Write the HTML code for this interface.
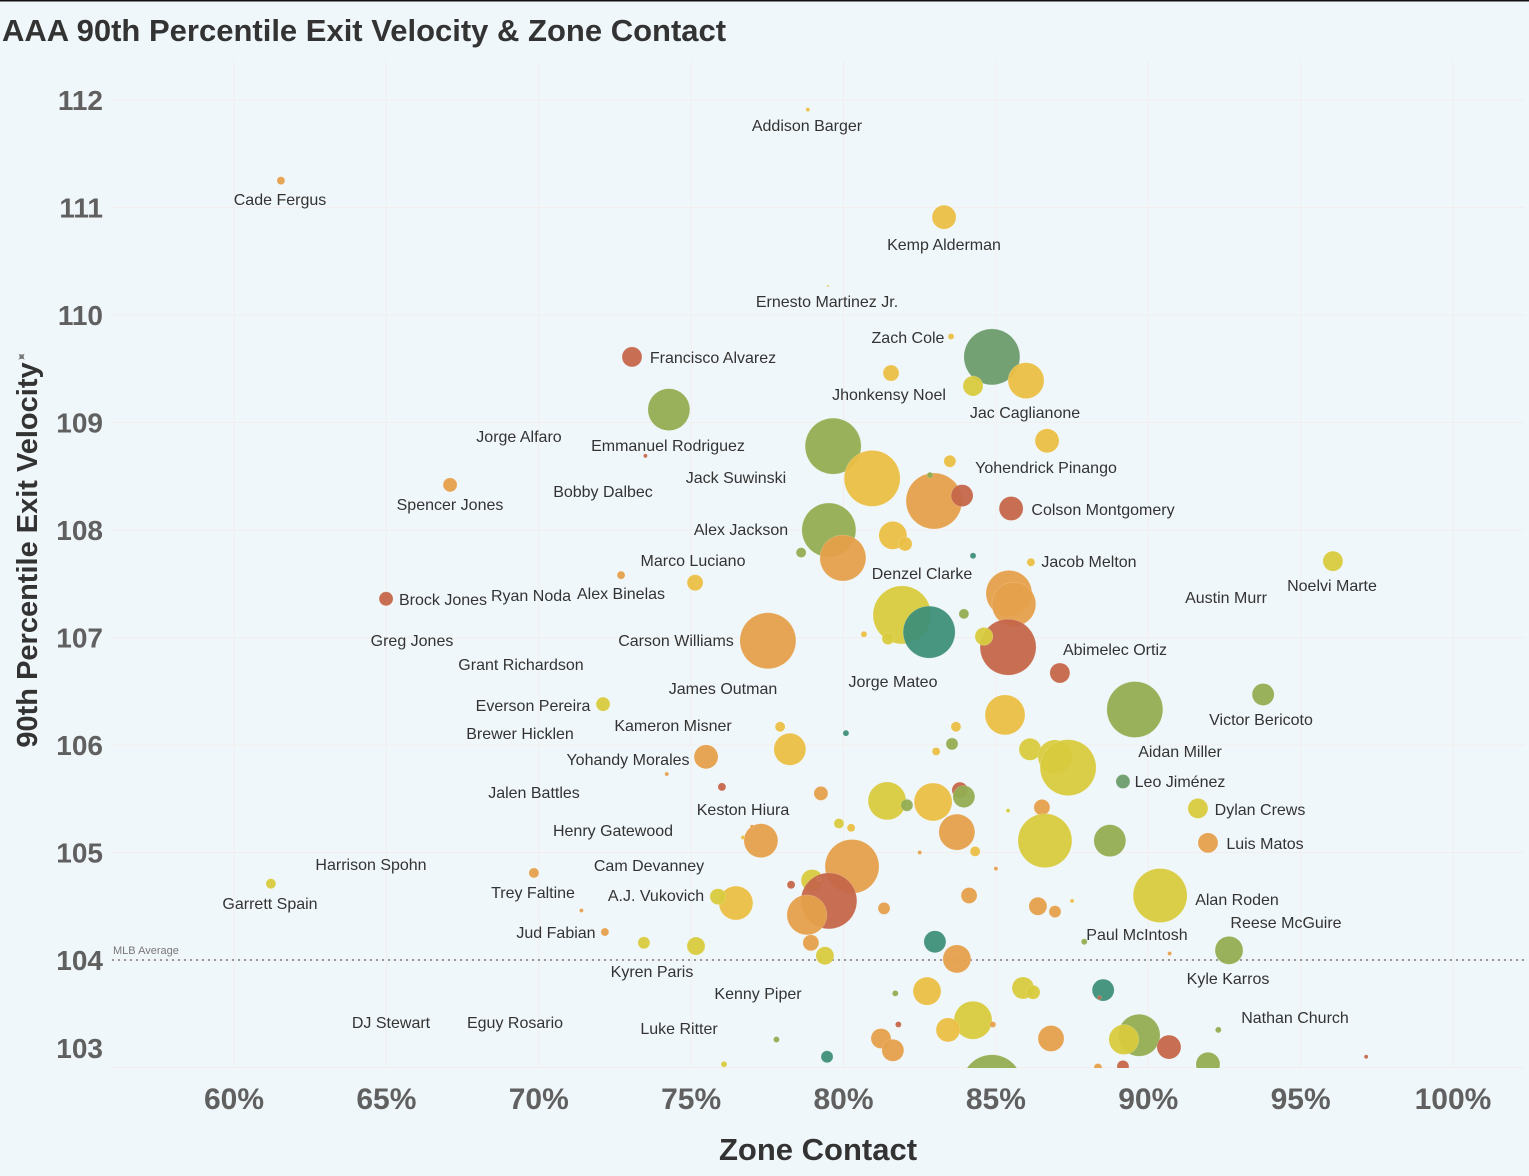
<!DOCTYPE html>
<html><head><meta charset="utf-8"><style>
html,body{margin:0;padding:0;background:#f0f7fa;}
svg{display:block;font-family:"Liberation Sans","DejaVu Sans",sans-serif;}
</style></head><body>
<svg id="chart" width="1529" height="1176" viewBox="0 0 1529 1176">
<rect x="0" y="0" width="1529" height="1176" fill="#f0f7fa"/>
<rect x="0" y="0" width="1529" height="1.5" fill="#111"/>
<text x="2" y="41" font-size="31" font-weight="bold" fill="#333">AAA 90th Percentile Exit Velocity &amp; Zone Contact</text>
<defs><clipPath id="plotclip"><rect x="110" y="60" width="1415" height="1008"/></clipPath></defs>
<g id="grid"></g>
<g id="yticks"></g>
<g id="xticks"></g>
<g id="avg"></g>
<g id="marks" clip-path="url(#plotclip)"></g>
<g id="labels"></g>
<text x="818" y="1160" text-anchor="middle" font-size="31" font-weight="bold" fill="#333">Zone Contact</text>
<text transform="translate(37,555) rotate(-90)" text-anchor="middle" font-size="29" font-weight="bold" fill="#333">90th Percentile Exit Velocity</text>
<text transform="translate(25,360) rotate(-45)" text-anchor="middle" font-size="13" fill="#777">✦</text>
</svg>
<script>
const xTicks=[60,65,70,75,80,85,90,95,100];
const yTicks=[103,104,105,106,107,108,109,110,111,112];
const mlbAverage=104.0;
const zoneContact=[78.83,61.54,83.30,79.49,83.53,73.06,84.87,85.99,84.25,81.56,74.27,79.66,80.94,86.68,83.49,82.97,83.89,85.50,67.09,82.84,79.52,81.62,82.02,79.98,78.61,84.25,86.15,96.06,72.70,75.13,64.99,85.43,85.59,81.92,82.81,77.52,85.40,83.95,84.61,80.67,81.46,87.10,93.77,89.56,85.30,72.11,77.92,83.69,80.08,78.24,75.49,83.56,83.04,86.12,86.94,87.37,89.17,76.01,79.26,81.43,82.08,82.94,83.82,83.95,86.51,91.63,79.85,80.25,77.29,83.72,86.61,88.74,91.96,84.32,80.28,69.84,61.21,78.97,79.52,78.80,76.47,75.88,90.39,84.12,86.38,86.94,81.33,78.28,72.17,73.45,75.16,78.93,79.39,83.00,83.72,92.65,82.74,85.89,86.22,88.52,84.25,83.43,89.70,89.20,86.81,90.68,81.23,81.62,79.46,84.87,91.96,89.17,88.35,76.08,97.15,87.9,92.3,77.8,81.8,84.9,88.4,71.4,81.7,85.4,85.0,73.5,77.0,82.5,87.5,90.7,79.2,76.7,74.2];
const exitVelo=[111.91,111.25,110.91,110.27,109.80,109.61,109.61,109.39,109.34,109.46,109.12,108.78,108.48,108.83,108.64,108.27,108.32,108.20,108.42,108.51,108.00,107.95,107.87,107.74,107.79,107.76,107.70,107.71,107.58,107.51,107.36,107.41,107.31,107.21,107.05,106.97,106.91,107.22,107.01,107.03,106.99,106.67,106.47,106.33,106.28,106.38,106.17,106.17,106.11,105.96,105.89,106.01,105.94,105.96,105.89,105.79,105.66,105.61,105.55,105.48,105.44,105.47,105.58,105.52,105.42,105.41,105.27,105.23,105.11,105.19,105.11,105.11,105.09,105.01,104.87,104.81,104.71,104.74,104.55,104.42,104.53,104.59,104.60,104.60,104.50,104.45,104.48,104.70,104.26,104.16,104.13,104.16,104.04,104.17,104.01,104.09,103.71,103.74,103.70,103.72,103.44,103.35,103.30,103.26,103.27,103.19,103.27,103.16,103.10,102.84,103.03,103.01,103.00,103.03,103.10,104.17,103.35,103.26,103.40,103.40,103.65,104.46,103.69,105.39,104.85,108.69,105.24,105.00,104.55,104.06,104.75,105.14,105.73];
const sizes=[2,4,12,1,3,10,28,18,10,8,21,28,28,12,6,28,11,12,7,3,27,14,7,23,5,3,4,10,4,8,7,23,22,29,26,28,28,5,9,3,6,10,11,28,20,7,5,5,3,16,12,6,4,11,17,28,7,4,7,19,6,19,8,11,8,10,5,4,17,18,27,16,10,5,27,5,5,11,28,20,17,8,27,8,9,6,6,4,4,6,9,8,9,11,14,14,14,11,7,11,19,12,21,15,13,12,10,11,6,30,12,6,4,3,2,3,3,3,3,3,2,2,3,2,2,2,2,2,2,2,2,2,2];
const colorGroup=["yo","o","yo","yo","yo","r","g","yo","y","yo","ol","ol","yo","yo","yo","o","r","r","o","ol","ol","yo","yo","o","ol","t","yo","y","o","yo","r","o","o","y","t","o","r","ol","y","yo","y","r","ol","ol","yo","y","yo","yo","t","yo","o","ol","yo","y","y","y","g","r","o","y","ol","yo","r","ol","o","y","y","yo","o","o","y","ol","o","yo","o","o","y","y","r","o","yo","y","y","o","o","o","o","r","o","y","y","o","y","t","o","ol","yo","y","y","t","y","yo","ol","y","o","r","o","o","t","ol","ol","r","o","y","r","ol","ol","ol","r","o","r","o","ol","y","o","r","o","o","yo","o","r","yo"];
const palette={o:"#e5a04b",r:"#c4664a",y:"#d8ca3e",yo:"#ebbf45",ol:"#93ad52",g:"#6b9c6b",t:"#3e8f79"};
const labelText=["Addison Barger","Cade Fergus","Kemp Alderman","Ernesto Martinez Jr.","Zach Cole","Francisco Alvarez","Jhonkensy Noel","Jac Caglianone","Jorge Alfaro","Emmanuel Rodriguez","Yohendrick Pinango","Jack Suwinski","Bobby Dalbec","Spencer Jones","Colson Montgomery","Alex Jackson","Marco Luciano","Jacob Melton","Denzel Clarke","Noelvi Marte","Brock Jones","Ryan Noda","Alex Binelas","Austin Murr","Greg Jones","Carson Williams","Abimelec Ortiz","Grant Richardson","Jorge Mateo","James Outman","Everson Pereira","Victor Bericoto","Kameron Misner","Brewer Hicklen","Aidan Miller","Yohandy Morales","Leo Jiménez","Jalen Battles","Keston Hiura","Dylan Crews","Henry Gatewood","Luis Matos","Harrison Spohn","Cam Devanney","Trey Faltine","A.J. Vukovich","Alan Roden","Garrett Spain","Reese McGuire","Jud Fabian","Paul McIntosh","Kyren Paris","Kyle Karros","Kenny Piper","Nathan Church","DJ Stewart","Eguy Rosario","Luke Ritter"];
const labelX=[807,280,944,827,908,713,889,1025,519,668,1046,736,603,450,1103,741,693,1089,922,1332,443,531,621,1226,412,676,1115,521,893,723,533,1261,673,520,1180,628,1180,534,743,1260,613,1265,371,649,533,656,1237,270,1286,556,1137,652,1228,758,1295,391,515,679];
const labelY=[126,200,245,302,338,358,395,413,437,446,468,478,492,505,510,530,561,562,574,586,600,596,594,598,641,641,650,665,682,689,706,720,726,734,752,760,782,793,810,810,831,844,865,866,893,896,900,904,923,933,935,972,979,994,1018,1023,1023,1029];

const NS="http://www.w3.org/2000/svg";
const xScale=v=>234+(v-60)*30.475;
const yScale=v=>100+(112-v)*107.5;
function mk(tag,attrs,parent){const e=document.createElementNS(NS,tag);for(const k in attrs)e.setAttribute(k,attrs[k]);parent.appendChild(e);return e;}
const grid=document.getElementById('grid'),yt=document.getElementById('yticks'),xt=document.getElementById('xticks');
yTicks.forEach(v=>{
  const l=mk('line',{x1:110,x2:1525,y1:yScale(v),y2:yScale(v),stroke:"#f2eeee","stroke-width":1},grid);
  
  
  const t=mk('text',{x:103,y:Math.min(yScale(v),1048)+10,"text-anchor":"end","font-size":28,"font-weight":"bold",fill:"#606060"},yt);
  t.textContent=v;
  
  
});
xTicks.forEach(v=>{
  const l=mk('line',{x1:xScale(v),x2:xScale(v),y1:60,y2:1068,stroke:"#f2eeee","stroke-width":1},grid);
  
  
  const t=mk('text',{x:xScale(v),y:1109,"text-anchor":"middle","font-size":30,"font-weight":"bold",fill:"#606060"},xt);
  t.textContent=v+"%";
  
  
});
const avg=document.getElementById('avg');
const al=mk('line',{x1:112,x2:1525,y1:yScale(mlbAverage),y2:yScale(mlbAverage),stroke:"#999","stroke-width":2,"stroke-dasharray":"2 4"},avg);


const at=mk('text',{x:113,y:yScale(mlbAverage)-6,"font-size":11,fill:"#777"},avg);
at.textContent="MLB Average";


const marks=document.getElementById('marks');
zoneContact.forEach((x,i)=>{
  const c=mk('circle',{cx:xScale(x),cy:yScale(exitVelo[i]),r:sizes[i]||2,fill:palette[colorGroup[i]]||"#e5a04b","fill-opacity":0.95,stroke:"#fff","stroke-opacity":0.3,"stroke-width":0.5},marks);
  
  
});
const lg=document.getElementById('labels');
labelText.forEach((s,i)=>{
  const t=mk('text',{x:labelX[i],y:labelY[i]+5,"text-anchor":"middle","font-size":16,fill:"#333"},lg);
  t.textContent=s;
  
  
});
</script>
</body></html>
